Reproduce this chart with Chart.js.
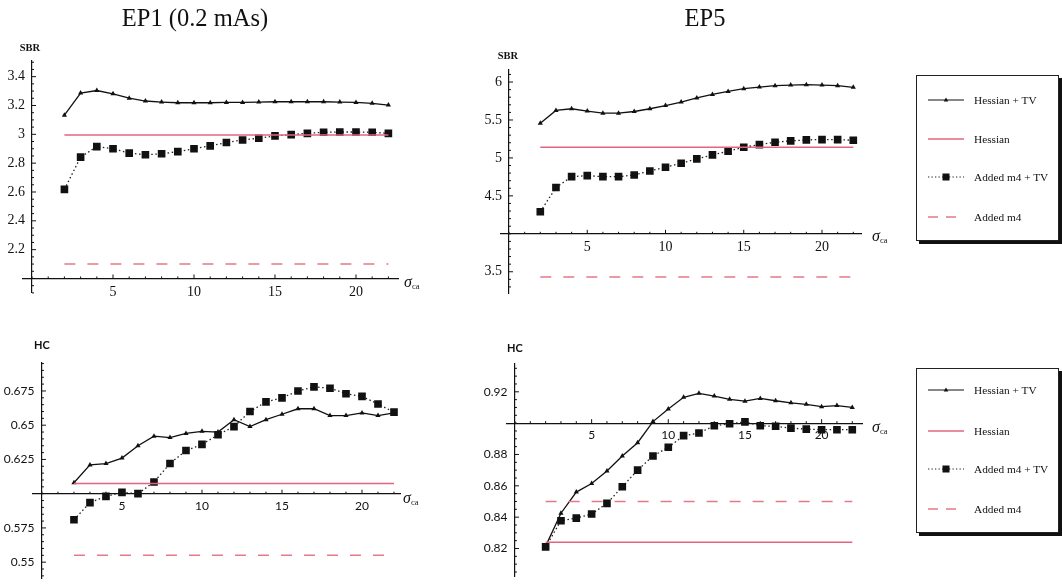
<!DOCTYPE html>
<html>
<head>
<meta charset="utf-8">
<script src="https://cdn.jsdelivr.net/npm/chart.js@4.4.1/dist/chart.umd.min.js"></script>
<style>
  html, body { margin: 0; padding: 0; background: #fff; }
  #page { position: relative; width: 1062px; height: 584px; overflow: hidden; background: #fff; }
  canvas.plot { position: absolute; left: 0; top: 0; }
  .title { position: absolute; font-family: "Liberation Serif", serif; font-size: 24.5px; color: #111;
           transform: translate(-50%, -50%); white-space: nowrap; }
  .ylab { position: absolute; transform: translate(-50%, -50%); color: #111; white-space: nowrap; }
  .ylab.serif { font-family: "Liberation Serif", serif; font-weight: bold; font-size: 10.5px; }
  .ylab.sans { font-family: Lato, sans-serif; font-weight: bold; font-size: 11px; }
  .sig { position: absolute; transform: translateY(-50%); font-family: "Liberation Serif", serif;
         font-style: italic; font-size: 16px; color: #111; white-space: nowrap; }
  .sig sub { font-style: normal; font-size: 8.5px; vertical-align: -2px; }
  .legend { position: absolute; width: 141px; border: 1px solid #222; background: #fff;
            box-shadow: 3px 3px 0 #111; }
  .legend .row { position: absolute; left: 11px; height: 14px; transform: translateY(-50%);
                 display: flex; align-items: center; white-space: nowrap; }
  .legend svg { width: 36px; height: 10px; margin-right: 10px; }
  .legend span { font-family: "Liberation Serif", serif; font-size: 11.3px; color: #111; }
</style>
</head>
<body>
<div id="page">
  <canvas class="plot" id="ep1sbr" width="1062" height="584"></canvas>
  <canvas class="plot" id="ep5sbr" width="1062" height="584"></canvas>
  <canvas class="plot" id="ep1hc" width="1062" height="584"></canvas>
  <canvas class="plot" id="ep5hc" width="1062" height="584"></canvas>

  <div class="title" style="left:195px; top:18px;">EP1 (0.2 mAs)</div>
  <div class="title" style="left:705px; top:18px;">EP5</div>

  <div class="ylab serif" style="left:30px; top:47px;">SBR</div>
  <div class="ylab serif" style="left:508px; top:55px;">SBR</div>
  <div class="ylab sans" style="left:42px; top:344px;">HC</div>
  <div class="ylab sans" style="left:515px; top:347px;">HC</div>

  <div class="sig" style="left:404px; top:282px;">σ<sub>ca</sub></div>
  <div class="sig" style="left:872px; top:236px;">σ<sub>ca</sub></div>
  <div class="sig" style="left:403px; top:498px;">σ<sub>ca</sub></div>
  <div class="sig" style="left:872px; top:427px;">σ<sub>ca</sub></div>

  <div class="legend" id="legendTop" style="left:916px; top:75px; height:164px;"></div>
  <div class="legend" id="legendBottom" style="left:916px; top:368px; height:163px;"></div>
</div>

<script>
// σ_ca values shared by every curve
const sigmaValues = [2, 3, 4, 5, 6, 7, 8, 9, 10, 11, 12, 13, 14, 15, 16, 17, 18, 19, 20, 21, 22];

// EP1 (0.2 mAs) — SBR
const ep1SbrHessianTV = [3.133, 3.286, 3.304, 3.281, 3.251, 3.231, 3.224, 3.219, 3.219, 3.219, 3.221,
                         3.221, 3.224, 3.226, 3.226, 3.226, 3.226, 3.224, 3.221, 3.215, 3.203];
const ep1SbrAddedTV   = [2.618, 2.842, 2.915, 2.900, 2.870, 2.858, 2.865, 2.880, 2.900, 2.920, 2.943,
                         2.961, 2.973, 2.989, 2.998, 3.007, 3.014, 3.016, 3.016, 3.014, 3.007];
const ep1SbrHessian = 2.995;
const ep1SbrAdded = 2.1;

// EP5 — SBR
const ep5SbrHessianTV = [5.458, 5.626, 5.648, 5.617, 5.590, 5.590, 5.612, 5.648, 5.690, 5.736, 5.790,
                         5.837, 5.877, 5.912, 5.934, 5.952, 5.960, 5.965, 5.960, 5.952, 5.930];
const ep5SbrAddedTV   = [4.290, 4.610, 4.753, 4.767, 4.753, 4.753, 4.775, 4.828, 4.877, 4.930, 4.987,
                         5.040, 5.088, 5.141, 5.176, 5.207, 5.225, 5.238, 5.242, 5.242, 5.233];
const ep5SbrHessian = 5.14;
const ep5SbrAdded = 3.43;

// EP1 (0.2 mAs) — HC
const ep1HcHessianTV = [0.608, 0.621, 0.622, 0.626, 0.635, 0.642, 0.641, 0.644, 0.6455, 0.645, 0.654,
                        0.649, 0.654, 0.658, 0.662, 0.662, 0.657, 0.657, 0.659, 0.657, 0.659];
const ep1HcAddedTV   = [0.581, 0.5935, 0.598, 0.601, 0.600, 0.6085, 0.622, 0.6315, 0.636, 0.643, 0.649,
                        0.660, 0.667, 0.670, 0.675, 0.678, 0.677, 0.673, 0.671, 0.6655, 0.6595];
const ep1HcHessian = 0.6075;
const ep1HcAdded = 0.555;

// EP5 — HC
const ep5HcHessianTV = [0.8215, 0.8425, 0.856, 0.8615, 0.8695, 0.879, 0.8875, 0.901, 0.909, 0.9165, 0.919,
                        0.9173, 0.9152, 0.914, 0.9158, 0.9143, 0.913, 0.912, 0.9105, 0.9112, 0.910];
const ep5HcAddedTV   = [0.821, 0.8377, 0.8394, 0.842, 0.8488, 0.8594, 0.870, 0.879, 0.8846, 0.892, 0.8937,
                        0.8983, 0.8996, 0.9008, 0.8983, 0.898, 0.8968, 0.8962, 0.8958, 0.8958, 0.8958];
const ep5HcHessian = 0.824;
const ep5HcAdded = 0.85;

// Tick labels
const xTickValues = [5, 10, 15, 20];
const xTickLabels = ['5', '10', '15', '20'];
const ep1SbrTickValues = [2.2, 2.4, 2.6, 2.8, 3.0, 3.2, 3.4];
const ep1SbrTickLabels = ['2.2', '2.4', '2.6', '2.8', '3', '3.2', '3.4'];
const ep5SbrTickValues = [3.5, 4.5, 5.0, 5.5, 6.0];
const ep5SbrTickLabels = ['3.5', '4.5', '5', '5.5', '6'];
const ep1HcTickValues = [0.55, 0.575, 0.625, 0.65, 0.675];
const ep1HcTickLabels = ['0.55', '0.575', '0.625', '0.65', '0.675'];
const ep5HcTickValues = [0.82, 0.84, 0.86, 0.88, 0.92];
const ep5HcTickLabels = ['0.82', '0.84', '0.86', '0.88', '0.92'];

const legendLabels = ['Hessian + TV', 'Hessian', 'Added m4 + TV', 'Added m4'];

const PAGE_W = 1062, PAGE_H = 584;
const HESSIAN_COLOR = '#e2667b';
const ADDED_COLOR = '#e47a88';

// Small inward tick marks along both axes, Mathematica style
const innerTicks = {
  id: 'innerTicks',
  afterDraw(chart, args, o) {
    const ctx = chart.ctx, xs = chart.scales.x, ys = chart.scales.y;
    const ax = xs.getPixelForValue(0);
    const ay = ys.getPixelForValue(o.xAxisAt);
    ctx.save();
    ctx.strokeStyle = '#111';
    ctx.lineWidth = 1;
    ctx.beginPath();
    for (let v = Math.ceil(xs.min / o.xMinor) * o.xMinor; v <= xs.max + 1e-9; v += o.xMinor) {
      const major = xTickValues.some(t => Math.abs(t - v) < 1e-6);
      const p = xs.getPixelForValue(v);
      ctx.moveTo(p, ay); ctx.lineTo(p, ay - (major ? 4 : 2));
    }
    for (let v = Math.ceil(ys.min / o.yMinor) * o.yMinor; v <= ys.max + 1e-9; v += o.yMinor) {
      const major = o.yMajor.some(t => Math.abs(t - v) < 1e-6);
      const p = ys.getPixelForValue(v);
      ctx.moveTo(ax, p); ctx.lineTo(ax + (major ? 4 : 2), p);
    }
    ctx.stroke();
    ctx.restore();
  }
};

// Axes sit inside the plot area, so they must not take layout room
function zeroFit(scale) {
  if (scale.isHorizontal()) scale.height = 0; else scale.width = 0;
  scale.paddingLeft = scale.paddingRight = scale.paddingTop = scale.paddingBottom = 0;
}

function pairs(ys) { return sigmaValues.map((x, i) => ({ x, y: ys[i] })); }
function flat(v) { return [{ x: sigmaValues[0], y: v }, { x: sigmaValues[sigmaValues.length - 1], y: v }]; }

function makePanel(id, p) {
  const font = p.serif ? { family: 'Liberation Serif', size: 14 } : { family: 'Lato', size: 12 };
  // gap between a y label and the axis line it sits against
  const gap = p.serif ? '\u2002' : '\u2002\u2009';
  new Chart(document.getElementById(id), {
    type: 'line',
    data: {
      datasets: [
        { label: legendLabels[1], data: flat(p.hessian), borderColor: HESSIAN_COLOR, borderWidth: 1.5,
          pointRadius: 0, fill: false },
        { label: legendLabels[3], data: flat(p.added), borderColor: ADDED_COLOR, borderWidth: 1.6,
          borderDash: [11, 12], pointRadius: 0, fill: false },
        { label: legendLabels[2], data: pairs(p.addedTV), borderColor: '#222', borderWidth: 1.3,
          borderDash: [1.5, 2.6], pointStyle: 'rect', pointRadius: 5.4, pointBackgroundColor: '#111',
          pointBorderWidth: 0, fill: false, tension: 0 },
        { label: legendLabels[0], data: pairs(p.hessianTV), borderColor: '#111', borderWidth: 1.3,
          pointStyle: 'triangle', pointRadius: 3, pointBackgroundColor: '#111', pointBorderWidth: 0,
          fill: false, tension: 0 }
      ]
    },
    options: {
      responsive: false,
      animation: false,
      devicePixelRatio: 1,
      events: [],
      layout: { padding: { left: p.area[0], top: p.area[1], right: PAGE_W - p.area[2], bottom: PAGE_H - p.area[3] } },
      plugins: {
        legend: { display: false }, tooltip: { enabled: false },
        innerTicks: { xAxisAt: p.xAxisAt, xMinor: 1, yMinor: p.yMinor, yMajor: p.yTicks }
      },
      scales: {
        x: {
          type: 'linear', min: p.xRange[0], max: p.xRange[1], position: { y: p.xAxisAt },
          grid: { display: true, drawOnChartArea: false, drawTicks: false },
          border: { display: true, color: '#111', width: 1.2 },
          ticks: { font, color: '#111', padding: 5, maxRotation: 0, autoSkip: false,
                   callback: (v, i) => xTickLabels[i] },
          afterBuildTicks: s => { s.ticks = xTickValues.map(v => ({ value: v })); },
          afterFit: zeroFit
        },
        y: {
          type: 'linear', min: p.yRange[0], max: p.yRange[1], position: { x: 0 },
          grid: { display: true, drawOnChartArea: false, drawTicks: false },
          border: { display: true, color: '#111', width: 1.2 },
          ticks: { font, color: '#111', padding: 6, autoSkip: false,
                   callback: (v, i) => p.yLabels[i] + gap },
          afterBuildTicks: s => { s.ticks = p.yTicks.map(v => ({ value: v })); },
          afterFit: zeroFit
        }
      }
    },
    plugins: [innerTicks]
  });
}

makePanel('ep1sbr', {
  area: [22.3, 60.8, 398.1, 292.9], xRange: [-0.6, 22.6], yRange: [1.9, 3.51], xAxisAt: 2.0,
  yTicks: ep1SbrTickValues, yLabels: ep1SbrTickLabels, yMinor: 0.05, serif: true,
  hessianTV: ep1SbrHessianTV, addedTV: ep1SbrAddedTV, hessian: ep1SbrHessian, added: ep1SbrAdded
});
makePanel('ep5sbr', {
  area: [500.4, 69.9, 861.9, 293.0], xRange: [-0.55, 22.55], yRange: [3.22, 6.16], xAxisAt: 4.0,
  yTicks: ep5SbrTickValues, yLabels: ep5SbrTickLabels, yMinor: 0.1, serif: true,
  hessianTV: ep5SbrHessianTV, addedTV: ep5SbrAddedTV, hessian: ep5SbrHessian, added: ep5SbrAdded
});
makePanel('ep1hc', {
  area: [33.0, 362.2, 400.4, 582.7], xRange: [-0.56, 22.4], yRange: [0.538, 0.696], xAxisAt: 0.6,
  yTicks: ep1HcTickValues, yLabels: ep1HcTickLabels, yMinor: 0.005, serif: false,
  hessianTV: ep1HcHessianTV, addedTV: ep1HcAddedTV, hessian: ep1HcHessian, added: ep1HcAdded
});
makePanel('ep5hc', {
  area: [507.0, 363.6, 862.7, 576.7], xRange: [-0.52, 22.68], yRange: [0.802, 0.938], xAxisAt: 0.9,
  yTicks: ep5HcTickValues, yLabels: ep5HcTickLabels, yMinor: 0.005, serif: false,
  hessianTV: ep5HcHessianTV, addedTV: ep5HcAddedTV, hessian: ep5HcHessian, added: ep5HcAdded
});

// Legend boxes
const legendSamples = [
  '<svg viewBox="0 0 36 10"><line x1="0" y1="5" x2="36" y2="5" stroke="#111" stroke-width="1.2"/>' +
    '<polygon points="18,2.5 20.3,6.5 15.7,6.5" fill="#111"/></svg>',
  '<svg viewBox="0 0 36 10"><line x1="0" y1="5" x2="36" y2="5" stroke="' + HESSIAN_COLOR + '" stroke-width="1.4"/></svg>',
  '<svg viewBox="0 0 36 10"><line x1="0" y1="5" x2="36" y2="5" stroke="#222" stroke-width="1.1" stroke-dasharray="1.3 2.2"/>' +
    '<rect x="14.5" y="1.5" width="7" height="7" fill="#111"/></svg>',
  '<svg viewBox="0 0 36 10"><line x1="0" y1="5" x2="36" y2="5" stroke="' + ADDED_COLOR + '" stroke-width="1.4" stroke-dasharray="10 8"/></svg>'
];
function buildLegend(id, rowTops) {
  const box = document.getElementById(id);
  legendLabels.forEach((label, i) => {
    const row = document.createElement('div');
    row.className = 'row';
    row.style.top = rowTops[i] + 'px';
    row.innerHTML = legendSamples[i] + '<span>' + label + '</span>';
    box.appendChild(row);
  });
}
buildLegend('legendTop', [24, 63, 101, 141]);
buildLegend('legendBottom', [21, 62, 100, 140]);
</script>
</body>
</html>
